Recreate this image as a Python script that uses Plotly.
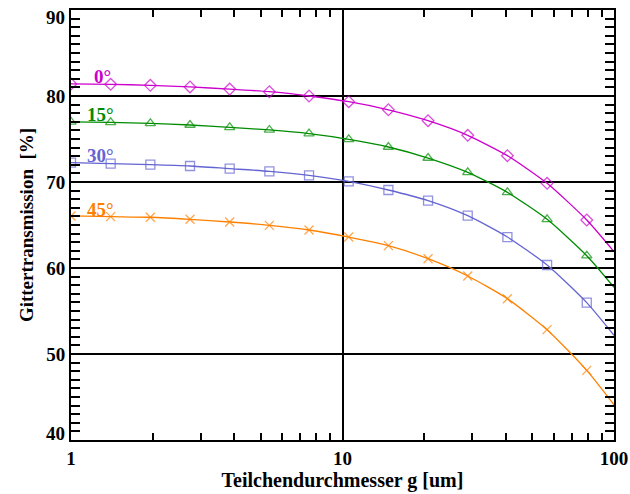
import plotly.graph_objects as go

# Particle diameter g [um]: sample points on a 1.4 ratio grid, curve runs on to 100
diameter = [1.0, 1.4, 1.96, 2.744, 3.8416, 5.37824, 7.529536, 10.54135, 14.75789,
            20.66105, 28.92547, 40.49565, 56.69391, 79.37148, 100.0]

# Grid transmission [%] for the four angles of incidence
trans_0 = [81.4, 81.36, 81.24, 81.05, 80.8, 80.5, 80.0, 79.34, 78.4, 77.13,
           75.43, 73.06, 69.85, 65.58, 61.9]
trans_15 = [77.0, 76.94, 76.82, 76.63, 76.36, 76.05, 75.62, 74.96, 74.07, 72.79,
            71.13, 68.8, 65.66, 61.43, 57.76]
trans_30 = [72.25, 72.13, 72.02, 71.86, 71.55, 71.24, 70.78, 70.08, 69.07, 67.83,
            66.08, 63.6, 60.35, 55.97, 52.17]
trans_45 = [66.05, 65.97, 65.9, 65.66, 65.35, 64.96, 64.42, 63.6, 62.6, 61.08,
            59.07, 56.43, 52.83, 48.1, 44.1]

angle_labels = ["0°", "15°", "30°", "45°"]
label_x = [0.038, 0.026, 0.026, 0.026]
label_y = [82.25, 77.8, 73.05, 66.86]

x_ticks = [1, 10, 100]
x_minor = [2, 3, 4, 5, 6, 7, 8, 9, 20, 30, 40, 50, 60, 70, 80, 90]
y_ticks = [40, 50, 60, 70, 80, 90]
y_range = [40, 90]

series = [
    (trans_0, "#CC00CC", "diamond-open"),
    (trans_15, "#008C00", "triangle-up-open"),
    (trans_30, "#6464D2", "square-open"),
    (trans_45, "#FF8000", "x-thin-open"),
]

FONT = "Liberation Serif"
tick_font = dict(family=FONT, size=19, color="black", weight="bold")

fig = go.Figure()
for (vals, color, symbol), name in zip(series, angle_labels):
    sizes = [9] * (len(diameter) - 1) + [0]
    fig.add_trace(go.Scatter(
        x=diameter, y=vals, name=name,
        mode="lines+markers",
        line=dict(color=color, width=1.3, shape="spline", smoothing=0.6),
        marker=dict(symbol=symbol, size=sizes, color=color,
                    line=dict(color=color, width=1.3)),
        cliponaxis=True,
        showlegend=False,
    ))

for text, xv, yv, (_, color, _) in zip(angle_labels, label_x, label_y, series):
    fig.add_annotation(
        x=xv, y=yv, xref="paper", yref="y",
        text=text, showarrow=False, xanchor="left", yanchor="middle",
        font=dict(family=FONT, size=19, color=color, weight="bold"),
    )

# end labels of the y axis sit inside the axis span, as on the frame's corners
inner_ticks = [v if v not in y_range else "" for v in y_ticks]
for v, anchor in zip(y_range, ["bottom", "top"]):
    fig.add_annotation(
        x=0, y=v, xref="paper", yref="y", text=str(v), showarrow=False,
        xanchor="right", yanchor=anchor, xshift=-4,
        yshift=5 if anchor == "top" else -6,
        font=tick_font,
    )

fig.update_layout(
    width=630, height=494,
    margin=dict(l=71, r=16, t=10, b=54, autoexpand=False),
    paper_bgcolor="white", plot_bgcolor="white",
    xaxis=dict(
        type="log", range=[0, 2], automargin=False,
        showline=True, linecolor="black", linewidth=2, mirror=True,
        showgrid=True, gridcolor="black", gridwidth=2, zeroline=False,
        tickvals=x_ticks, ticktext=[str(v) for v in x_ticks],
        ticks="inside", ticklen=7, tickwidth=2, tickcolor="black",
        tickfont=tick_font,
        minor=dict(tickvals=x_minor, ticks="inside", ticklen=7, tickwidth=1.5,
                   tickcolor="black", showgrid=False),
        title=dict(text="Teilchendurchmesser g [um]", standoff=4,
                   font=dict(family=FONT, size=20, color="black", weight="bold")),
    ),
    yaxis=dict(
        range=y_range, automargin=False,
        showline=True, linecolor="black", linewidth=2, mirror=True,
        showgrid=True, gridcolor="black", gridwidth=2, zeroline=False,
        tickvals=y_ticks, ticktext=[str(v) for v in inner_ticks],
        ticks="inside", ticklen=9, tickwidth=2, tickcolor="black",
        tickfont=tick_font,
        minor=dict(dtick=1, ticks="inside", ticklen=9, tickwidth=1.5,
                   tickcolor="black", showgrid=False),
        title=dict(text="Gittertransmission  [%]", standoff=8,
                   font=dict(family=FONT, size=19, color="black", weight="bold")),
    ),
    # top and right axes carry the same inward tick marks, without labels
    xaxis2=dict(
        type="log", range=[0, 2], overlaying="x", side="top", anchor="y",
        showline=False, showgrid=False, zeroline=False, showticklabels=False,
        tickvals=x_ticks, ticks="inside", ticklen=7, tickwidth=2, tickcolor="black",
        minor=dict(tickvals=x_minor, ticks="inside", ticklen=7, tickwidth=1.5,
                   tickcolor="black", showgrid=False),
    ),
    yaxis2=dict(
        range=y_range, overlaying="y", side="right", anchor="x",
        showline=False, showgrid=False, zeroline=False, showticklabels=False,
        tickvals=y_ticks, ticks="inside", ticklen=9, tickwidth=2, tickcolor="black",
        minor=dict(dtick=1, ticks="inside", ticklen=9, tickwidth=1.5,
                   tickcolor="black", showgrid=False),
    ),
)

# invisible traces bind the mirror axes so they are rendered
fig.add_trace(go.Scatter(x=[1, 100], y=[None, None], xaxis="x2", yaxis="y",
                         showlegend=False, hoverinfo="skip"))
fig.add_trace(go.Scatter(x=[None, None], y=y_range, xaxis="x", yaxis="y2",
                         showlegend=False, hoverinfo="skip"))

fig.write_html("out.html")
